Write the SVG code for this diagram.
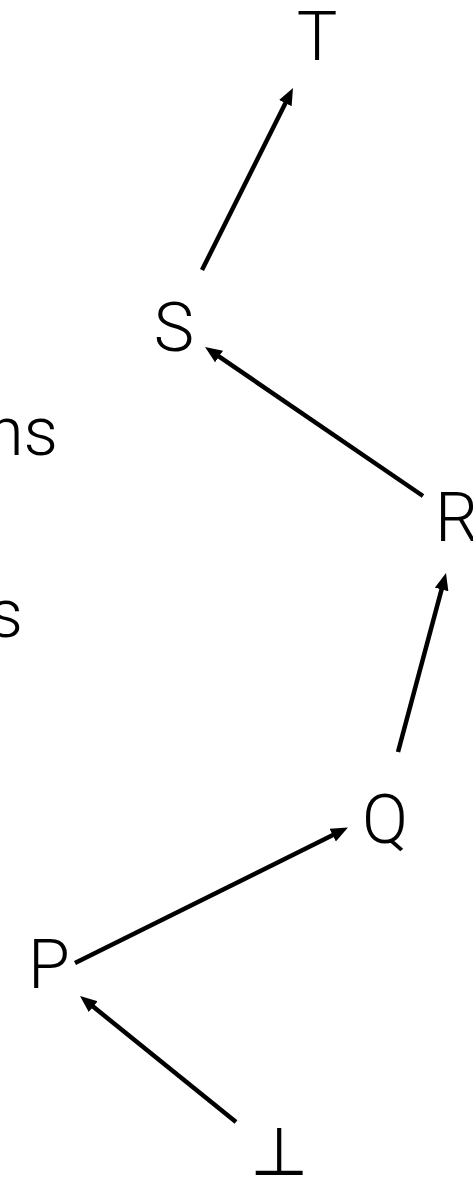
<svg xmlns="http://www.w3.org/2000/svg" width="473" height="1178" viewBox="0 0 473 1178">
  <style>
    .lbl { font-family: Roboto, "Liberation Sans", sans-serif; font-weight: 300; font-size: 68px; fill: #000; }
    .sym { font-family: "DejaVu Sans", "Liberation Sans", sans-serif; font-weight: 200; font-size: 67px; fill: #000; }
    .edge { stroke: #000; stroke-width: 4.5; fill: none; marker-end: url(#head); }
  </style>
  <defs>
    <marker id="head" markerUnits="userSpaceOnUse" markerWidth="22" markerHeight="16" refX="7" refY="7" orient="auto">
      <path d="M0,0 L17,7 L0,14 z" fill="#000"/>
    </marker>
  </defs>
  <rect width="473" height="1178" fill="#fff"/>

  <!-- partial words at the left edge -->
  <text class="lbl" x="58" y="455" text-anchor="end">ns</text>
  <text class="lbl" x="23" y="637" text-anchor="end">s</text>

  <g id="node-T"><text class="lbl" x="317" y="60" text-anchor="middle">T</text></g>
  <g id="node-S"><text class="lbl" x="174" y="351" text-anchor="middle">S</text></g>
  <g id="node-R"><text class="lbl" x="435" y="541">R</text></g>
  <g id="node-Q"><text class="lbl" x="385" y="843" text-anchor="middle">Q</text></g>
  <g id="node-P"><text class="lbl" x="49" y="988" text-anchor="middle">P</text></g>
  <g id="node-bot"><text class="sym" x="278.5" y="1175" text-anchor="middle">⊥</text></g>

  <g id="edges">
    <line class="edge" x1="202" y1="270" x2="288.5" y2="96.9"/>
    <line class="edge" x1="423" y1="496" x2="213.3" y2="352.6"/>
    <line class="edge" x1="398" y1="752" x2="443.4" y2="582.7"/>
    <line class="edge" x1="75" y1="963" x2="339" y2="832"/>
    <line class="edge" x1="236" y1="1122" x2="87.8" y2="1002.3"/>
  </g>
</svg>
